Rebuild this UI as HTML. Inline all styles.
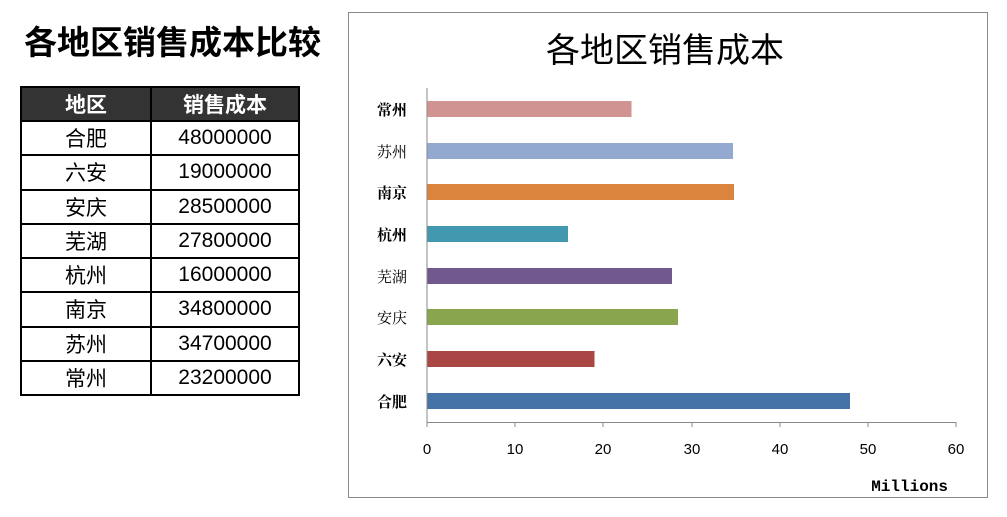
<!DOCTYPE html>
<html><head><meta charset="utf-8"><style>
body{margin:0;width:1007px;height:517px;background:#fff;position:relative;overflow:hidden;font-family:"Liberation Sans","Noto Sans CJK SC",sans-serif}
.t{position:absolute;left:24px;top:16px;font-size:33px;font-weight:bold;color:#000}
.c{position:absolute;box-sizing:border-box;border:2px solid #000;text-align:center;font-size:21px;display:flex;align-items:center;justify-content:center}
.h{background:#333;color:#fff;font-weight:bold}
</style></head><body>
<div class="t">各地区销售成本比较</div>
<div id="tb"></div>
<script>
var d=[["地区","销售成本"],["合肥","48000000"],["六安","19000000"],["安庆","28500000"],["芜湖","27800000"],["杭州","16000000"],["南京","34800000"],["苏州","34700000"],["常州","23200000"]];
var h='';
for(var i=0;i<d.length;i++){var y=i==0?86:120+(i-1)*34.25;var ht=i==0?36:36.25;var cl=i==0?'c h':'c';
h+='<div class="'+cl+'" style="left:20px;top:'+y+'px;width:132px;height:'+ht+'px">'+d[i][0]+'</div>';
h+='<div class="'+cl+'" style="left:150px;top:'+y+'px;width:150px;height:'+ht+'px">'+d[i][1]+'</div>';}
document.getElementById('tb').innerHTML=h;
</script>
<svg style="position:absolute;left:0;top:0" width="1007" height="517">
<rect x="348.5" y="12.5" width="639" height="485" fill="#fff" stroke="#888"/>
<text x="665" y="62" text-anchor="middle" font-size="34" font-family="Liberation Sans,Noto Sans CJK SC,sans-serif">各地区销售成本</text>
<g font-size="15" font-family="Liberation Serif,Noto Serif CJK SC,serif" text-anchor="end">
<rect x="427" y="101" width="204.5" height="16" fill="#d19392"/><text x="407" y="115" font-weight="bold">常州</text>
<rect x="427" y="143" width="306" height="16" fill="#93a9cf"/><text x="407" y="157">苏州</text>
<rect x="427" y="184" width="307" height="16" fill="#db843d"/><text x="407" y="198" font-weight="bold">南京</text>
<rect x="427" y="226" width="141" height="16" fill="#4198af"/><text x="407" y="240" font-weight="bold">杭州</text>
<rect x="427" y="268" width="245" height="16" fill="#71588f"/><text x="407" y="282">芜湖</text>
<rect x="427" y="309" width="251" height="16" fill="#89a54e"/><text x="407" y="323">安庆</text>
<rect x="427" y="351" width="167.5" height="16" fill="#aa4643"/><text x="407" y="365" font-weight="bold">六安</text>
<rect x="427" y="393" width="423" height="16" fill="#4572a7"/><text x="407" y="407" font-weight="bold">合肥</text>
</g>
<line x1="427" y1="88" x2="427" y2="422" stroke="#888"/>
<line x1="427" y1="422.5" x2="956" y2="422.5" stroke="#888"/>
<g stroke="#888">
<line x1="427" y1="422" x2="427" y2="427"/><line x1="515" y1="422" x2="515" y2="427"/><line x1="603" y1="422" x2="603" y2="427"/><line x1="692" y1="422" x2="692" y2="427"/><line x1="780" y1="422" x2="780" y2="427"/><line x1="868" y1="422" x2="868" y2="427"/><line x1="956" y1="422" x2="956" y2="427"/>
</g>
<g font-size="15" text-anchor="middle" fill="#000">
<text x="427" y="454">0</text><text x="515" y="454">10</text><text x="603" y="454">20</text><text x="692" y="454">30</text><text x="780" y="454">40</text><text x="868" y="454">50</text><text x="956" y="454">60</text>
</g>
<text x="948" y="491" text-anchor="end" font-size="16" font-weight="bold" font-family="Liberation Mono,monospace">Millions</text>
</svg>
</body></html>
